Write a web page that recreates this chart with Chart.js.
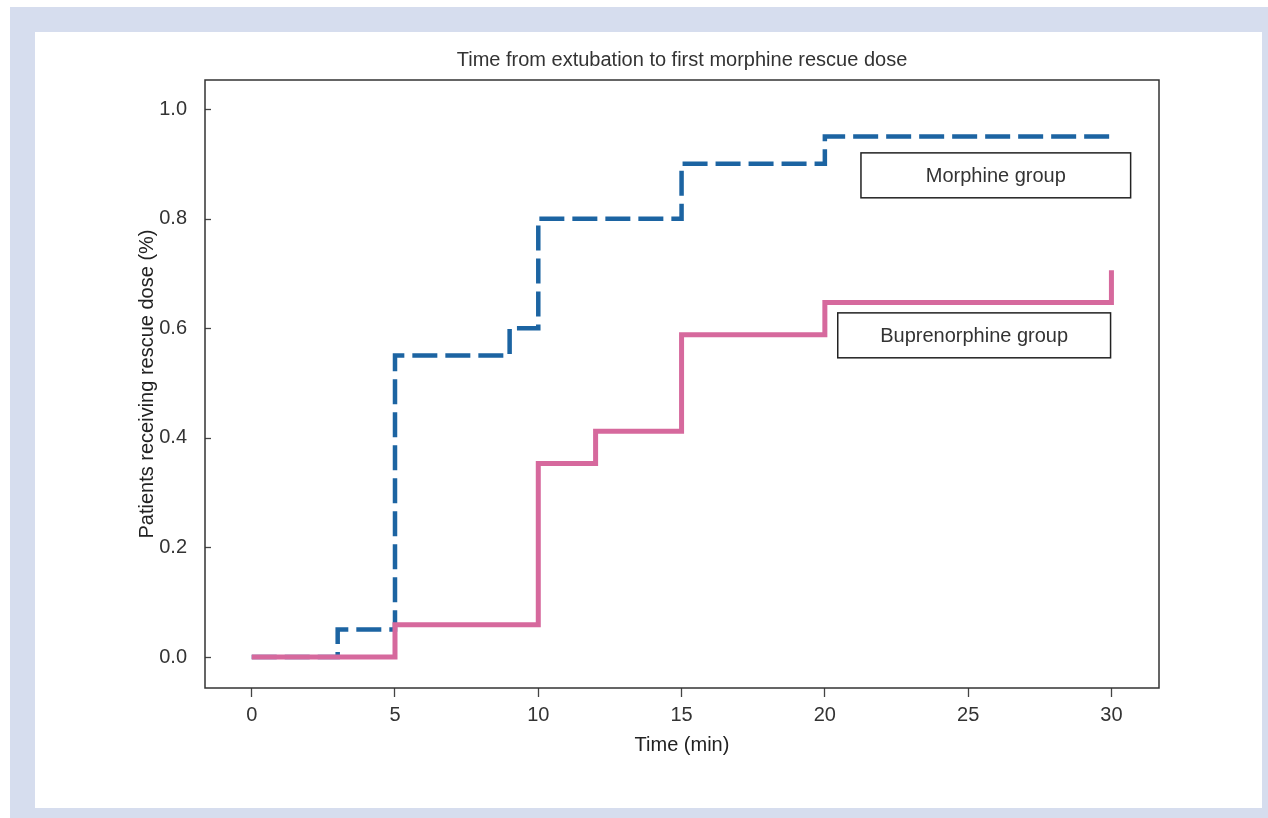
<!DOCTYPE html>
<html>
<head>
<meta charset="utf-8">
<script src="https://cdn.jsdelivr.net/npm/chart.js@4.4.0/dist/chart.umd.min.js"></script>
<style>
	body { margin: 0; background: #fff; width: 1268px; height: 818px; overflow: hidden; position: relative; }
	#frame { position: absolute; left: 10px; top: 7px; width: 1258px; height: 811px; background: #d6ddee; }
	#panel { position: absolute; left: 35px; top: 32px; width: 1227px; height: 776px; background: #fff; }
	#c { position: absolute; left: 0; top: 0; }
</style>
</head>
<body>
<div id="frame"></div>
<div id="panel"></div>
<canvas id="c" width="1268" height="818"></canvas>
<script>
// Kaplan-Meier style step data (time in min, cumulative proportion)
var morphineTimes = [0, 3, 5, 9, 10, 15, 20, 30];
var morphineValues = [0, 0.05, 0.55, 0.60, 0.80, 0.90, 0.95, 0.95];
var buprenorphineTimes = [0, 5, 10, 12, 15, 20, 30];
var buprenorphineValues = [0, 0.059, 0.353, 0.412, 0.588, 0.647, 0.706];
var xTicks = [0, 5, 10, 15, 20, 25, 30];
var yTicks = [0, 0.2, 0.4, 0.6, 0.8, 1.0];
var groupLabels = ['Morphine group', 'Buprenorphine group'];

var fontFamily = '"Liberation Sans", Arial, sans-serif';

function toPoints(times, values) {
	return times.map(function (t, i) { return { x: t, y: values[i] }; });
}

// draws the plot frame, inward y ticks and the two label boxes
var frameAndLabels = {
	id: 'frameAndLabels',
	afterDraw: function (chart, args, opts) {
		var ctx = chart.ctx;
		var a = chart.chartArea;
		var xs = chart.scales.x, ys = chart.scales.y;
		ctx.save();
		ctx.strokeStyle = '#444';
		ctx.lineWidth = 1.3;
		yTicks.forEach(function (v) {
			var py = Math.round(ys.getPixelForValue(v)) + 0.5;
			ctx.beginPath();
			ctx.moveTo(a.left, py);
			ctx.lineTo(a.left + 6, py);
			ctx.stroke();
		});
		ctx.strokeStyle = '#333';
		ctx.lineWidth = 1.5;
		ctx.strokeRect(a.left, a.top, a.right - a.left, a.bottom - a.top);

		ctx.font = '20px ' + fontFamily;
		ctx.textAlign = 'center';
		ctx.textBaseline = 'middle';
		opts.boxes.forEach(function (b) {
			var l = xs.getPixelForValue(b.x0), r = xs.getPixelForValue(b.x1);
			var t = ys.getPixelForValue(b.y0), btm = ys.getPixelForValue(b.y1);
			ctx.fillStyle = '#fff';
			ctx.fillRect(l, t, r - l, btm - t);
			ctx.strokeStyle = '#222';
			ctx.lineWidth = 1.5;
			ctx.strokeRect(l, t, r - l, btm - t);
			ctx.fillStyle = '#333';
			ctx.fillText(b.text, (l + r) / 2, (t + btm) / 2 + 1);
		});
		ctx.restore();
	}
};

new Chart(document.getElementById('c'), {
	type: 'line',
	data: {
		datasets: [
			{
				label: groupLabels[0],
				data: toPoints(morphineTimes, morphineValues),
				borderColor: '#1c64a2',
				borderWidth: 4.5,
				borderDash: [25, 8],
				stepped: true,
				pointRadius: 0,
				fill: false,
				order: 1
			},
			{
				label: groupLabels[1],
				data: toPoints(buprenorphineTimes, buprenorphineValues),
				borderColor: '#d6699d',
				borderWidth: 5,
				stepped: true,
				pointRadius: 0,
				fill: false,
				order: 0
			}
		]
	},
	options: {
		responsive: false,
		animation: false,
		layout: { padding: { left: 120, right: 109, top: 0, bottom: 30 } },
		plugins: {
			legend: { display: false },
			tooltip: { enabled: false },
			title: {
				display: true,
				fullSize: false,
				text: 'Time from extubation to first morphine rescue dose',
				color: '#333',
				font: { size: 20, family: fontFamily, weight: 'normal' },
				padding: { top: 48, bottom: 8 }
			},
			frameAndLabels: {
				boxes: [
					{ text: groupLabels[0], x0: 21.26, x1: 30.67, y0: 0.920, y1: 0.838 },
					{ text: groupLabels[1], x0: 20.45, x1: 29.97, y0: 0.628, y1: 0.546 }
				]
			}
		},
		scales: {
			x: {
				type: 'linear',
				min: -1.63,
				max: 31.66,
				afterBuildTicks: function (s) { s.ticks = xTicks.map(function (v) { return { value: v }; }); },
				afterFit: function (s) { s.height = 100; },
				grid: { display: true, drawOnChartArea: false, drawTicks: true, tickLength: 9, color: '#444', tickColor: '#444', tickWidth: 1.3 },
				border: { display: false },
				ticks: { color: '#333', font: { size: 20, family: fontFamily }, padding: 6, maxRotation: 0, callback: function (v) { return String(v); } },
				title: { display: true, text: 'Time (min)', color: '#222', font: { size: 20, family: fontFamily }, padding: { top: 0, bottom: 31 } }
			},
			y: {
				type: 'linear',
				min: -0.0566,
				max: 1.053,
				afterBuildTicks: function (s) { s.ticks = yTicks.map(function (v) { return { value: v }; }); },
				afterFit: function (s) { s.width = 85; },
				grid: { display: false },
				border: { display: false },
				ticks: { color: '#333', font: { size: 20, family: fontFamily }, padding: 10, callback: function (v) { return v.toFixed(1); } },
				title: { display: true, text: 'Patients receiving rescue dose (%)', color: '#222', font: { size: 20, family: fontFamily }, padding: { top: 15, bottom: 0 } }
			}
		}
	},
	plugins: [frameAndLabels]
});
</script>
</body>
</html>
